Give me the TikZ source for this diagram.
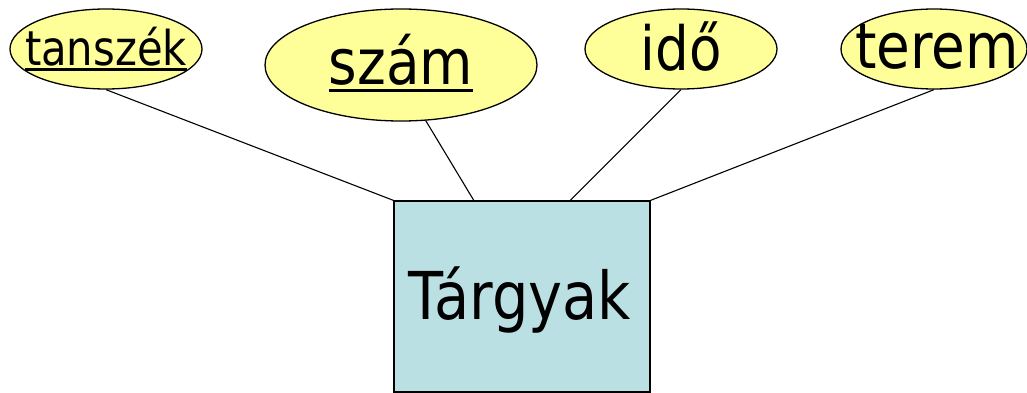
\documentclass[tikz,border=0pt]{standalone}
\usepackage{fontspec}
\setmainfont[FakeStretch=0.87]{DejaVu Sans}
\usetikzlibrary{shapes.geometric,calc}
\definecolor{attrfill}{HTML}{FFFF99}
\definecolor{entfill}{HTML}{BBE0E3}
\newcommand\myul[2]{\leavevmode\setbox0\hbox{#1}\rlap{\rule[#2]{\wd0}{2.5pt}}\box0}
\begin{document}
\begin{tikzpicture}[x=1pt,y=-1pt,
  attr/.style={ellipse,draw,line width=1.3pt,fill=attrfill,inner sep=0pt},
  ent/.style={rectangle,draw,line width=1.3pt,fill=entfill,inner sep=0pt},
  conn/.style={line width=1.1pt}]
\useasboundingbox (0,0) rectangle (1027,393);
\node[attr,minimum width=192pt,minimum height=80pt] (tan) at (106,49) {};
\node[attr,minimum width=272pt,minimum height=112pt] (szam) at (401,65) {};
\node[attr,minimum width=192pt,minimum height=80pt] (ido) at (681,49) {};
\node[attr,minimum width=186pt,minimum height=80pt] (ter) at (934,49) {};
\node[ent,minimum width=256pt,minimum height=191pt] (targy) at (522,296.5) {};
\node[inner sep=0pt,font=\fontsize{48}{48}\selectfont] (tant) at (106,49) {\myul{tanszék}{-5.5pt}};
\node[inner sep=0pt,font=\fontsize{63}{63}\selectfont] (szamt) at (401,63) {\myul{szám}{-7pt}};
\node[inner sep=0pt,font=\fontsize{61}{61}\selectfont] (idot) at (681,47) {idő};
\node[inner sep=0pt,font=\fontsize{63}{63}\selectfont] (tert) at (937,47) {terem};
\node[inner sep=0pt,font=\fontsize{66}{66}\selectfont] (targyt) at (520,300) {Tárgyak};
\draw[conn] (tan.south) -- (targy.north west);
\draw[conn] (szam.-66) -- ($(targy.north west)!0.3125!(targy.north east)$);
\draw[conn] (ido.south) -- ($(targy.north west)!0.6875!(targy.north east)$);
\draw[conn] (ter.south) -- (targy.north east);
\end{tikzpicture}
\end{document}
